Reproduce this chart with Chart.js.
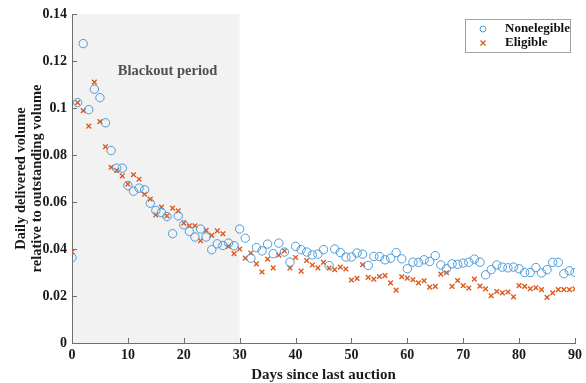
<!DOCTYPE html>
<html>
<head>
<meta charset="utf-8">
<script src="https://cdn.jsdelivr.net/npm/chart.js@4.4.0/dist/chart.umd.min.js"></script>
<style>
  html, body { margin: 0; padding: 0; background: #fff; }
  #wrap { width: 586px; height: 383px; }
</style>
</head>
<body>
<div id="wrap"><canvas id="chart"></canvas></div>
<script>
const days = [0,1,2,3,4,5,6,7,8,9,10,11,12,13,14,15,16,17,18,19,20,21,22,23,24,25,26,27,28,29,30,
  31,32,33,34,35,36,37,38,39,40,41,42,43,44,45,46,47,48,49,50,51,52,53,54,55,56,57,58,59,60,
  61,62,63,64,65,66,67,68,69,70,71,72,73,74,75,76,77,78,79,80,81,82,83,84,85,86,87,88,89,90];

const nonEligible = [0.0363,0.1023,0.1274,0.0993,0.1080,0.1044,0.0937,0.0819,0.0744,0.0744,
  0.0670,0.0646,0.0659,0.0652,0.0595,0.0564,0.0555,0.0538,0.0465,0.0541,
  0.0503,0.0475,0.0451,0.0485,0.0451,0.0397,0.0422,0.0415,0.0425,0.0414,
  0.0485,0.0446,0.0361,0.0406,0.0392,0.0421,0.0380,0.0425,0.0387,0.0344,
  0.0411,0.0397,0.0387,0.0375,0.0378,0.0397,0.0329,0.0400,0.0385,0.0366,
  0.0366,0.0383,0.0378,0.0330,0.0368,0.0368,0.0354,0.0361,0.0385,0.0358,
  0.0316,0.0344,0.0343,0.0354,0.0347,0.0372,0.0332,0.0316,0.0337,0.0335,
  0.0340,0.0344,0.0357,0.0344,0.0290,0.0312,0.0332,0.0323,0.0320,0.0323,
  0.0316,0.0300,0.0300,0.0321,0.0298,0.0312,0.0343,0.0343,0.0295,0.0307,0.0300];

const eligible = [0.0388,0.1023,0.0989,0.0923,0.1110,0.0942,0.0835,0.0748,0.0734,0.0711,
  0.0676,0.0716,0.0697,0.0633,0.0612,0.0545,0.0578,0.0541,0.0574,0.0562,
  0.0510,0.0499,0.0499,0.0435,0.0479,0.0458,0.0477,0.0465,0.0411,0.0380,
  0.0400,0.0361,0.0383,0.0337,0.0302,0.0357,0.0320,0.0374,0.0392,0.0319,
  0.0364,0.0306,0.0351,0.0332,0.0320,0.0343,0.0319,0.0312,0.0323,0.0315,
  0.0268,0.0275,0.0333,0.0279,0.0272,0.0283,0.0287,0.0256,0.0225,0.0282,
  0.0276,0.0269,0.0256,0.0265,0.0238,0.0241,0.0293,0.0299,0.0241,0.0266,
  0.0244,0.0234,0.0272,0.0242,0.0230,0.0201,0.0219,0.0213,0.0217,0.0196,
  0.0244,0.0241,0.0231,0.0235,0.0227,0.0194,0.0213,0.0227,0.0227,0.0227,0.0230];

const xTicks = [0,10,20,30,40,50,60,70,80,90];
const yTicks = [0,0.02,0.04,0.06,0.08,0.1,0.12,0.14];
const blackout = [0, 30];
const blackoutLabel = 'Blackout period';

const serif = "'Liberation Serif', 'Times New Roman', serif";
const blue = '#4a9bd9';
const orange = '#dc5a1e';
const axisColor = '#6e6e6e';

// shaded blackout window + its caption
const blackoutPlugin = {
  id: 'blackout',
  beforeDraw(chart) {
    const { ctx, chartArea: a, scales: { x, y } } = chart;
    const x0 = x.getPixelForValue(blackout[0]);
    const x1 = x.getPixelForValue(blackout[1]);
    ctx.save();
    ctx.fillStyle = '#f2f2f2';
    ctx.fillRect(x0, a.top, x1 - x0, a.bottom - a.top);
    ctx.fillStyle = '#505050';
    ctx.font = 'bold 14.5px ' + serif;
    ctx.textAlign = 'center';
    ctx.textBaseline = 'middle';
    ctx.fillText(blackoutLabel, x.getPixelForValue(17.1), y.getPixelForValue(0.1155));
    ctx.restore();
  }
};

// inward ticks and boxed legend, matlab style
const decoPlugin = {
  id: 'deco',
  afterDraw(chart) {
    const { ctx, chartArea: a, scales: { x, y } } = chart;
    ctx.save();
    ctx.strokeStyle = axisColor;
    ctx.lineWidth = 1;
    ctx.beginPath();
    xTicks.forEach(t => {
      const px = Math.round(x.getPixelForValue(t)) + 0.5;
      ctx.moveTo(px, a.bottom);
      ctx.lineTo(px, a.bottom - 5);
    });
    yTicks.forEach(t => {
      const py = Math.round(y.getPixelForValue(t)) + 0.5;
      ctx.moveTo(a.left, py);
      ctx.lineTo(a.left + 5, py);
    });
    ctx.stroke();

    // legend
    const bx = a.right - 110, by = a.top + 5, bw = 105, bh = 33;
    ctx.fillStyle = '#fff';
    ctx.fillRect(bx, by, bw, bh);
    ctx.strokeStyle = '#a0a0a0';
    ctx.strokeRect(bx + 0.5, by + 0.5, bw, bh);
    const mx = bx + 18;
    const rows = [by + 10, by + 24];
    ctx.lineWidth = 1;
    ctx.strokeStyle = blue;
    ctx.beginPath();
    ctx.arc(mx, rows[0], 3, 0, Math.PI * 2);
    ctx.stroke();
    ctx.strokeStyle = orange;
    ctx.lineWidth = 1.3;
    ctx.beginPath();
    ctx.moveTo(mx - 2.5, rows[1] - 2.5); ctx.lineTo(mx + 2.5, rows[1] + 2.5);
    ctx.moveTo(mx + 2.5, rows[1] - 2.5); ctx.lineTo(mx - 2.5, rows[1] + 2.5);
    ctx.stroke();
    ctx.fillStyle = '#111';
    ctx.font = 'bold 13px ' + serif;
    ctx.textBaseline = 'middle';
    ctx.textAlign = 'left';
    chart.data.datasets.forEach((ds, i) => ctx.fillText(ds.label, bx + 40, rows[i]));
    ctx.restore();
  }
};

const ctx = document.getElementById('chart').getContext('2d');
const chart = new Chart(ctx, {
  type: 'scatter',
  data: {
    datasets: [{
      label: 'Nonelegible',
      data: days.map((d, i) => ({ x: d, y: nonEligible[i] })),
      pointStyle: 'circle',
      pointRadius: 4.2,
      borderWidth: 1,
      borderColor: blue,
      backgroundColor: 'rgba(0,0,0,0)'
    }, {
      label: 'Eligible',
      data: days.map((d, i) => ({ x: d, y: eligible[i] })),
      pointStyle: 'crossRot',
      pointRadius: 3.3,
      borderWidth: 1.4,
      borderColor: orange,
      backgroundColor: orange
    }]
  },
  options: {
    responsive: true,
    maintainAspectRatio: false,
    animation: false,
    layout: { padding: { top: 14, right: 11, left: 0, bottom: 0 } },
    plugins: { legend: { display: false }, tooltip: { enabled: false } },
    scales: {
      x: {
        type: 'linear',
        min: 0,
        max: 90,
        afterBuildTicks: s => { s.ticks = xTicks.map(v => ({ value: v })); },
        afterFit: s => { s.height = 40; },
        grid: { display: false, drawTicks: false },
        border: { display: true, color: axisColor },
        ticks: { color: '#1a1a1a', padding: 4, font: { family: serif, size: 14, weight: 'bold' } },
        title: {
          display: true,
          text: 'Days since last auction',
          color: '#1a1a1a',
          padding: { top: 0, bottom: 0 },
          font: { family: serif, size: 15, weight: 'bold', lineHeight: 1.0 }
        }
      },
      y: {
        min: 0,
        max: 0.14,
        afterBuildTicks: s => { s.ticks = yTicks.map(v => ({ value: v })); },
        afterFit: s => { s.width = 72; },
        grid: { display: false, drawTicks: false },
        border: { display: true, color: axisColor },
        ticks: {
          color: '#1a1a1a',
          padding: 5,
          font: { family: serif, size: 14, weight: 'bold' },
          callback: v => String(+v.toFixed(2))
        },
        title: {
          display: true,
          text: ['Daily delivered volume', 'relative to outstanding volume'],
          color: '#1a1a1a',
          padding: { top: 14, bottom: 0 },
          font: { family: serif, size: 14.5, weight: 'bold', lineHeight: 1.05 }
        }
      }
    }
  },
  plugins: [blackoutPlugin, decoPlugin]
});
</script>
</body>
</html>
